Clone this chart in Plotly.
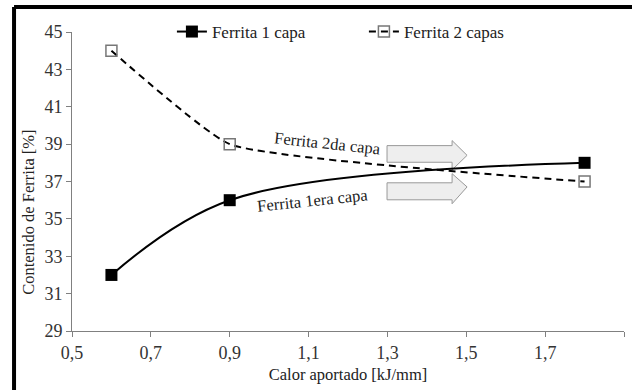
import plotly.graph_objects as go

# ---- data ----
calor = [0.6, 0.9, 1.8]
ferrita_1capa = [32, 36, 38]
ferrita_2capas = [44, 39, 37]
x_ticks = [0.5, 0.7, 0.9, 1.1, 1.3, 1.5, 1.7, 1.9]
y_ticks = [29, 31, 33, 35, 37, 39, 41, 43, 45]

FONT = "Liberation Serif"
TXT = "#222222"

fig = go.Figure()
fig.add_trace(go.Scatter(
    x=calor, y=ferrita_1capa, name="Ferrita 1 capa",
    mode="lines+markers",
    line=dict(color="black", width=2, shape="spline", smoothing=1),
    marker=dict(symbol="square", size=12, color="black"),
))
fig.add_trace(go.Scatter(
    x=calor, y=ferrita_2capas, name="Ferrita 2 capas",
    mode="lines+markers",
    line=dict(color="black", width=2, dash="7px,5px", shape="spline", smoothing=0.4),
    marker=dict(symbol="square-open", size=11, color="#777777", line=dict(width=1.5)),
))

# block arrows (data coordinates)
def block_arrow(x0, xh, xt, yb0, yb1, yh0, yh1, yt):
    return (f"M{x0},{yb0} L{xh},{yb0} L{xh},{yh0} L{xt},{yt} L{xh},{yh1} "
            f"L{xh},{yb1} L{x0},{yb1} Z")

arrows = [
    (1.299, 1.464, 1.502, 38.92, 38.03, 39.19, 37.62, 38.40),
    (1.299, 1.464, 1.502, 36.93, 36.02, 37.42, 35.81, 36.71),
]
shapes = []
for a in arrows:
    shapes.append(dict(type="path", xref="x", yref="y", path=block_arrow(*a),
                       fillcolor="#eeeeee", line=dict(color="#999999", width=1),
                       layer="below"))

# outer frame (partially cropped in the original)
shapes.append(dict(type="line", xref="paper", yref="paper",
                   x0=-0.105, x1=1.0145, y0=1.0836, y1=1.0836,
                   line=dict(color="black", width=4)))
shapes.append(dict(type="line", xref="paper", yref="paper",
                   x0=-0.105, x1=-0.105, y0=1.0836, y1=-0.197,
                   line=dict(color="black", width=4)))

annotations = [
    dict(x=1.149, y=39.01, xref="x", yref="y", text="Ferrita 2da capa",
         showarrow=False, textangle=6, font=dict(family=FONT, size=16.5, color=TXT)),
    dict(x=1.111, y=35.97, xref="x", yref="y", text="Ferrita 1era capa",
         showarrow=False, textangle=-6, font=dict(family=FONT, size=16.5, color=TXT)),
    dict(x=-0.08, y=(331 - 212) / 299, xref="paper", yref="paper",
         text="Contenido de Ferrita [%]", showarrow=False, textangle=-90,
         xanchor="center", yanchor="middle",
         font=dict(family=FONT, size=16.5, color=TXT)),
]

fig.update_layout(
    width=632, height=390,
    margin=dict(l=72, r=8, t=32, b=59),
    paper_bgcolor="white", plot_bgcolor="white",
    separators=",.",
    font=dict(family=FONT, size=16, color=TXT),
    showlegend=True,
    legend=dict(orientation="h", x=0.181, y=1.0, xanchor="left", yanchor="middle",
                font=dict(family=FONT, size=17, color=TXT),
                entrywidth=147, entrywidthmode="pixels",
                bgcolor="rgba(0,0,0,0)"),
    shapes=shapes,
    annotations=annotations,
    xaxis=dict(range=[0.5, 1.9], tickvals=x_ticks, tickformat=".1f",
               showgrid=False, zeroline=False, showline=True,
               linecolor="#808080", linewidth=1, ticks="outside", ticklen=5,
               tickcolor="#808080", tickfont=dict(family=FONT, size=18, color="#333333"),
               title=dict(text="Calor aportado [kJ/mm]", standoff=6,
                          font=dict(family=FONT, size=16.5, color=TXT))),
    yaxis=dict(range=[29, 45], tickvals=y_ticks,
               showgrid=False, zeroline=False, showline=True,
               linecolor="#808080", linewidth=1, ticks="outside", ticklen=5,
               tickcolor="#808080", tickfont=dict(family=FONT, size=18, color="#333333")),
)

fig.write_html("out.html")
